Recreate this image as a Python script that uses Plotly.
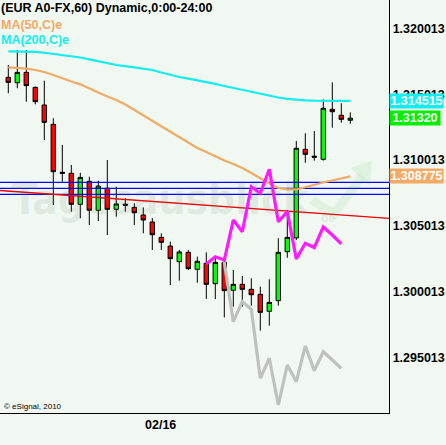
import plotly.graph_objects as go

# ---------------- data ----------------
idx = list(range(39))
opens = [1.31630, 1.31589, 1.31668, 1.31554, 1.31420, 1.31273, 1.30905, 1.30901, 1.30665, 1.30840,
         1.30620, 1.30787, 1.30627, 1.30662, 1.30642, 1.30584, 1.30531, 1.30414, 1.30348, 1.30229,
         1.30300, 1.30171, 1.30217, 1.30062, 1.30224, 1.30012, 1.30057, 1.30019, 1.29981, 1.29852,
         1.29933, 1.30305, 1.30410, 1.31083, 1.31027, 1.31007, 1.31387, 1.31342, 1.31304]
highs = [1.31724, 1.31838, 1.31838, 1.31560, 1.31605, 1.31319, 1.31116, 1.30964, 1.30905, 1.30875,
         1.30845, 1.31002, 1.30799, 1.30711, 1.30673, 1.30642, 1.30561, 1.30445, 1.30381, 1.30318,
         1.30318, 1.30267, 1.30300, 1.30257, 1.30242, 1.30166, 1.30120, 1.30103, 1.30039, 1.30095,
         1.30407, 1.30622, 1.31146, 1.31205, 1.31222, 1.31463, 1.31592, 1.31433, 1.31364]
lows = [1.31509, 1.31547, 1.31445, 1.31425, 1.31154, 1.30660, 1.30837, 1.30609, 1.30559, 1.30508,
        1.30538, 1.30432, 1.30571, 1.30609, 1.30508, 1.30445, 1.30318, 1.30318, 1.30052, 1.30085,
        1.30166, 1.30069, 1.29946, 1.29945, 1.29806, 1.29887, 1.29887, 1.29895, 1.29705, 1.29743,
        1.29895, 1.30259, 1.30394, 1.30981, 1.30997, 1.30997, 1.31247, 1.31285, 1.31278]
closes = [1.31592, 1.31668, 1.31567, 1.31445, 1.31288, 1.30913, 1.30905, 1.30665, 1.30870, 1.30620,
          1.30804, 1.30627, 1.30668, 1.30662, 1.30601, 1.30546, 1.30434, 1.30376, 1.30252, 1.30303,
          1.30176, 1.30232, 1.30057, 1.30224, 1.30009, 1.30057, 1.30019, 1.29978, 1.29844, 1.29920,
          1.30300, 1.30414, 1.31091, 1.31045, 1.31027, 1.31395, 1.31369, 1.31311, 1.31320]

ma50 = [1.31706, 1.31703, 1.31697, 1.31686, 1.31671, 1.31648, 1.31621, 1.31599, 1.31577, 1.31549,
        1.31515, 1.31485, 1.31458, 1.31424, 1.31382, 1.31340, 1.31298, 1.31260, 1.31215, 1.31173,
        1.31131, 1.31093, 1.31063, 1.31030, 1.30998, 1.30972, 1.30941, 1.30903, 1.30861, 1.30823,
        1.30789, 1.30778, 1.30778, 1.30797, 1.30812, 1.30831, 1.30846, 1.30861, 1.308775]
ma200 = [1.31827, 1.31827, 1.31825, 1.31823, 1.31817, 1.31809, 1.31801, 1.31792, 1.31781, 1.31767,
         1.31751, 1.31737, 1.31724, 1.31715, 1.31706, 1.31697, 1.31686, 1.31667, 1.31648, 1.31633,
         1.31620, 1.31608, 1.31595, 1.31580, 1.31564, 1.31549, 1.31534, 1.31519, 1.31504, 1.31492,
         1.31477, 1.31467, 1.31460, 1.31455, 1.31453, 1.31452, 1.31452, 1.31452, 1.314515]

proj_magenta_x = list(range(22, 38))
proj_magenta = [1.30212, 1.30267, 1.30242, 1.30546, 1.30457, 1.30799, 1.30749, 1.30931,
                1.30533, 1.30610, 1.30250, 1.30369, 1.30337, 1.30493, 1.30432, 1.30364]
proj_grey_x = list(range(24, 38))
proj_grey = [1.30227, 1.29773, 1.29925, 1.29867, 1.29343, 1.29495, 1.29140, 1.29444,
             1.29317, 1.29588, 1.29401, 1.29545, 1.29482, 1.29419]

blue_levels = [1.30832, 1.30787, 1.30741]
trend_x = [-0.92, 42.3]
trend_y = [1.30770, 1.30558]

ytick_vals = [1.295013, 1.300013, 1.305013, 1.310013, 1.315013, 1.320013]
ytick_text = ["1.295013", "1.300013", "1.305013", "1.310013", "1.315013", "1.320013"]
date_ticks = [15]
date_labels = ["02/16"]

title_text = "(EUR A0-FX,60) Dynamic,0:00-24:00"
ma50_name = "MA(50,C)e"
ma200_name = "MA(200,C)e"

# ---------------- styling ----------------
BG = "#f0f8f1"
CYAN = "#12eef0"
ORANGE = "#f2aa64"
MAGENTA = "#ff1aff"
GREY = "#bdc2bd"
FONT = "Liberation Sans, Arial, sans-serif"
X_RANGE = [-0.922, 42.3]
Y_RANGE = [1.290791, 1.322179]
PLOT_H = 413
PLOT_W = 389
px_price = (Y_RANGE[1] - Y_RANGE[0]) / PLOT_H

fig = go.Figure()

# horizontal levels and trend line (behind candles)
for lv in blue_levels:
    fig.add_trace(go.Scatter(x=X_RANGE, y=[lv, lv], mode="lines",
                             line=dict(color="#0000ff", width=1.3), hoverinfo="skip"))
fig.add_trace(go.Scatter(x=trend_x, y=trend_y, mode="lines",
                         line=dict(color="#ee0000", width=1.3), hoverinfo="skip"))

# moving averages
fig.add_trace(go.Scatter(x=idx, y=ma200, mode="lines", line=dict(color=CYAN, width=2.2), hoverinfo="skip"))
fig.add_trace(go.Scatter(x=idx, y=ma50, mode="lines", line=dict(color=ORANGE, width=2.2), hoverinfo="skip"))

# projections
fig.add_trace(go.Scatter(x=proj_grey_x, y=proj_grey, mode="lines",
                         line=dict(color=GREY, width=3.2), hoverinfo="skip"))
fig.add_trace(go.Scatter(x=proj_magenta_x, y=proj_magenta, mode="lines",
                         line=dict(color=MAGENTA, width=3.2), hoverinfo="skip"))

# candles
inc = [i for i in idx if closes[i] > opens[i]]
dec = [i for i in idx if closes[i] < opens[i]]
doj = [i for i in idx if closes[i] == opens[i]]

def sub(lst, ii):
    return [lst[i] for i in ii]

fig.add_trace(go.Candlestick(x=inc, open=sub(opens, inc), high=sub(highs, inc), low=sub(lows, inc),
                             close=sub(closes, inc),
                             increasing=dict(line=dict(color="black", width=1), fillcolor="#00ff00"),
                             decreasing=dict(line=dict(color="black", width=1), fillcolor="#00ff00"),
                             hoverinfo="skip"))
fig.add_trace(go.Candlestick(x=dec, open=sub(opens, dec), high=sub(highs, dec), low=sub(lows, dec),
                             close=sub(closes, dec),
                             increasing=dict(line=dict(color="black", width=1), fillcolor="#ff0000"),
                             decreasing=dict(line=dict(color="black", width=1), fillcolor="#ff0000"),
                             hoverinfo="skip"))
fig.add_trace(go.Candlestick(x=doj, open=[opens[i] + 0.5 * px_price for i in doj],
                             high=sub(highs, doj), low=sub(lows, doj),
                             close=[closes[i] - 0.5 * px_price for i in doj],
                             increasing=dict(line=dict(color="black", width=1), fillcolor="black"),
                             decreasing=dict(line=dict(color="black", width=1), fillcolor="black"),
                             hoverinfo="skip"))

annotations = []
# watermark
annotations.append(dict(text="<b>Tagesausblick</b>", xref="paper", yref="paper",
                        x=10 / PLOT_W, y=1 - 200 / PLOT_H, xanchor="left", yanchor="middle",
                        showarrow=False,
                        font=dict(family="DejaVu Sans Condensed, DejaVu Sans, sans-serif",
                                  size=42, color="rgba(110,130,110,0.12)")))
annotations.append(dict(text="<b>de</b>", xref="paper", yref="paper",
                        x=328 / PLOT_W, y=1 - 218 / PLOT_H, xanchor="center", yanchor="middle",
                        showarrow=False,
                        font=dict(family=FONT, size=12, color="rgba(110,130,110,0.12)")))

# legend-like titles
for txt, col, ypix in [(title_text, "black", 8.5), (ma50_name, ORANGE, 24.7), (ma200_name, CYAN, 40.3)]:
    annotations.append(dict(text=txt, xref="paper", yref="paper", x=0, y=1 - ypix / PLOT_H,
                            xanchor="left", yanchor="middle", showarrow=False, borderpad=0,
                            font=dict(family=FONT, size=12.5, color=col, weight="bold")))

# price flags
for val, txt, col, w in [(ma200[-1], "1.314515", CYAN, 53), (closes[-1], "1.31320", "#00ee00", 50),
                         (ma50[-1], "1.308775", ORANGE, 53)]:
    annotations.append(dict(text=txt, xref="paper", yref="y", x=1, y=val, xanchor="left",
                            yanchor="middle", showarrow=False, bgcolor=col, borderpad=0,
                            width=w, height=14, align="center",
                            font=dict(family=FONT, size=12.5, color="white", weight="bold")))

# date label
for t, lab in zip(date_ticks, date_labels):
    annotations.append(dict(text=lab, xref="x", yref="paper", x=t, y=0, xanchor="left",
                            yanchor="top", yshift=-3, showarrow=False,
                            font=dict(family=FONT, size=12.5, color="black", weight="bold")))

annotations.append(dict(text="© eSignal, 2010", xref="paper", yref="paper", x=2 / PLOT_W,
                        y=1 - 406 / PLOT_H, xanchor="left", yanchor="middle", showarrow=False,
                        font=dict(family=FONT, size=8, color="black")))

shapes = [
    dict(type="path", xref="paper", yref="paper",
         path="M {:.4f} {:.4f} L {:.4f} {:.4f} L {:.4f} {:.4f}".format(
             312 / PLOT_W, 1 - 200 / PLOT_H, 334 / PLOT_W, 1 - 214 / PLOT_H,
             362 / PLOT_W, 1 - 176 / PLOT_H),
         line=dict(color="rgba(0,170,0,0.07)", width=9)),
    dict(type="path", xref="paper", yref="paper",
         path="M {:.4f} {:.4f} L {:.4f} {:.4f} L {:.4f} {:.4f} Z".format(
             350 / PLOT_W, 1 - 168 / PLOT_H, 372 / PLOT_W, 1 - 160 / PLOT_H,
             370 / PLOT_W, 1 - 186 / PLOT_H),
         line=dict(width=0), fillcolor="rgba(0,170,0,0.07)"),
]

fig.update_layout(
    width=446, height=445,
    margin=dict(l=0, r=57, t=0, b=32, pad=0),
    paper_bgcolor=BG, plot_bgcolor=BG,
    showlegend=False,
    annotations=annotations,
    shapes=shapes,
    boxgap=0.3,
    xaxis=dict(range=X_RANGE, showgrid=False, zeroline=False, showticklabels=False,
               showline=True, linecolor="black", linewidth=1, ticks="",
               rangeslider=dict(visible=False), fixedrange=True),
    yaxis=dict(range=Y_RANGE, side="right", showgrid=False, zeroline=False,
               showline=True, linecolor="black", linewidth=1.3, ticks="",
               tickvals=ytick_vals, ticktext=ytick_text, ticklabelstandoff=0,
               tickfont=dict(family=FONT, size=12.5, color="black", weight="bold"),
               fixedrange=True),
)

fig.write_html("out.html", config={"displayModeBar": False},
               post_script="document.body.style.margin='0';document.body.style.background='%s';" % BG)
